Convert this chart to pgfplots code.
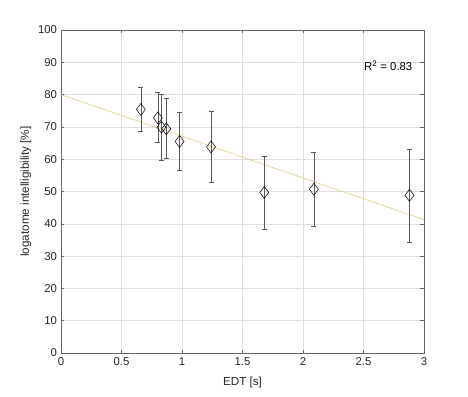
\documentclass[border=0pt]{standalone}
\usepackage{pgfplots}
\pgfplotsset{compat=1.18}
\usepackage{fontspec}
\setmainfont{Liberation Sans}
\definecolor{fitline}{rgb}{0.91,0.80,0.52}
\definecolor{axgray}{rgb}{0.15,0.15,0.15}
\begin{document}
\begin{tikzpicture}
\begin{axis}[
  scale only axis,
  width=363bp, height=323bp,
  xmin=0, xmax=3, ymin=0, ymax=100,
  xtick={0,0.5,1,1.5,2,2.5,3},
  xticklabels={0,0.5,1,1.5,2,2.5,3},
  ytick={0,10,...,100},
  grid=major,
  major grid style={black!13, line width=0.5pt},
  axis line style={black!60, line width=0.5pt},
  tick style={black!60, line width=0.5pt},
  major tick length=3.5bp,
  tick align=inside,
  /pgf/number format/assume math mode=true,
  tick label style={font=\fontsize{11.4}{13}\selectfont, text=axgray},
  xticklabel style={yshift=-1.5bp},
  yticklabel style={xshift=-0.5bp},
  label style={font=\fontsize{11.7}{13}\selectfont, text=axgray},
  xlabel style={yshift=-4bp},
  xlabel={EDT [s]},
  ylabel={logatome intelligibility [\%]},
  clip=false,
]
\addplot[fitline, line width=0.6pt, forget plot] coordinates {(0,80.0) (3,41.3)};
\addplot[
  black, only marks, mark=diamond, mark size=6bp,
  mark options={black, line width=0.5pt, fill=none},
  error bars/.cd, y dir=both, y explicit,
  error bar style={black!65, line width=0.6pt},
  error mark options={rotate=90, mark size=2.5bp, black!65, line width=0.6pt},
] table[x=x, y=y, y error plus=ep, y error minus=em] {
x y ep em
0.66 75.4 7.0 6.8
0.80 72.8 7.8 7.6
0.83 69.9 10.1 10.1
0.87 69.4 9.5 9.2
0.98 65.5 9.0 9.0
1.24 63.8 10.9 11.0
1.68 49.7 11.3 11.5
2.09 50.7 11.3 11.5
2.88 48.8 14.2 14.5
};
\node[anchor=east, font=\fontsize{11.4}{13}\selectfont, text=black, inner sep=0pt] at (axis cs:2.905,89.0) {R\textsuperscript{2} = 0.83};
\path (rel axis cs:0,0) ++(-61bp,-44bp) coordinate (bl);
\path (rel axis cs:1,1) ++(44bp,30bp) coordinate (tr);
\pgfresetboundingbox
\path[use as bounding box] (bl) rectangle (tr);
\end{axis}
\end{tikzpicture}
\end{document}
